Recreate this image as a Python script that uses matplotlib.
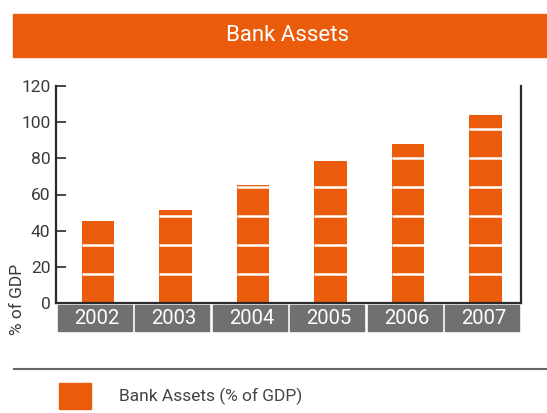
import matplotlib.pyplot as plt
from matplotlib.patches import Rectangle
from matplotlib.transforms import blended_transform_factory

plt.rcParams['font.family'] = ['Roboto', 'DejaVu Sans']

years = ['2002', '2003', '2004', '2005', '2006', '2007']
bank_assets = [45.5, 51.5, 65, 78.5, 88, 104]
block = 16  # height of each stacked block, % of GDP

orange = '#EA5B0C'
grey_box = '#707070'
dark = '#2a2a2a'

fig = plt.figure(figsize=(5.47, 4.13), dpi=100)
W, H = 547, 413

# title banner
fig.patches.append(Rectangle((13 / W, 1 - 57 / H), 1 - 13 / W, 43 / H,
                             transform=fig.transFigure, color=orange, zorder=0))
fig.text(287 / W, 1 - 35.5 / H, 'Bank Assets', color='white', fontsize=16,
         ha='center', va='center')

ax = fig.add_axes([56 / W, 1 - 303 / H, (521 - 56) / W, 217 / H])
x = list(range(len(years)))
bx = [xi + 0.04 for xi in x]
ax.bar(bx, bank_assets, width=0.42, color=orange, zorder=2)

# white separators between the blocks
for xi, v in zip(bx, bank_assets):
    k = block
    while k < v:
        ax.hlines(k, xi - 0.21, xi + 0.21, color='white', lw=1.8, zorder=3)
        k += block

ax.set_xlim(-0.5, len(years) - 0.5)
ax.set_ylim(0, 120)
ax.set_yticks(range(0, 121, 20))
ax.set_xticks([])
ax.tick_params(axis='y', direction='in', length=7.5, width=1.2, color=dark,
               labelsize=12.5, labelcolor='#3a3a3a', pad=4)
ax.spines['top'].set_visible(False)
for s in ('left', 'bottom', 'right'):
    ax.spines[s].set_color(dark)
    ax.spines[s].set_linewidth(1.6)

# year boxes under the axis
trans = blended_transform_factory(ax.transData, ax.transAxes)
for xi, yr in zip(x, years):
    ax.add_patch(Rectangle((xi - 0.48, -28 / 217), 0.96, 26 / 217, transform=trans,
                           color=grey_box, clip_on=False, zorder=1))
    ax.text(xi + 0.02, -15 / 217, yr, transform=trans, color='white', fontsize=14.5,
            ha='center', va='center')

fig.text(18 / W, 1 - 299 / H, '% of GDP', rotation=90, fontsize=12.5,
         color='#3a3a3a', ha='center', va='center')

# legend
fig.add_artist(plt.Line2D([14 / W, 1], [1 - 369 / H, 1 - 369 / H],
                          transform=fig.transFigure, color='#666666', lw=1.5))
fig.patches.append(Rectangle((59 / W, 1 - 409 / H), 32 / W, 26 / H,
                             transform=fig.transFigure, color=orange))
fig.text(119 / W, 1 - 396 / H, 'Bank Assets (% of GDP)', fontsize=12.5,
         color='#444444', ha='left', va='center')

fig.savefig('out.png', dpi=100)
